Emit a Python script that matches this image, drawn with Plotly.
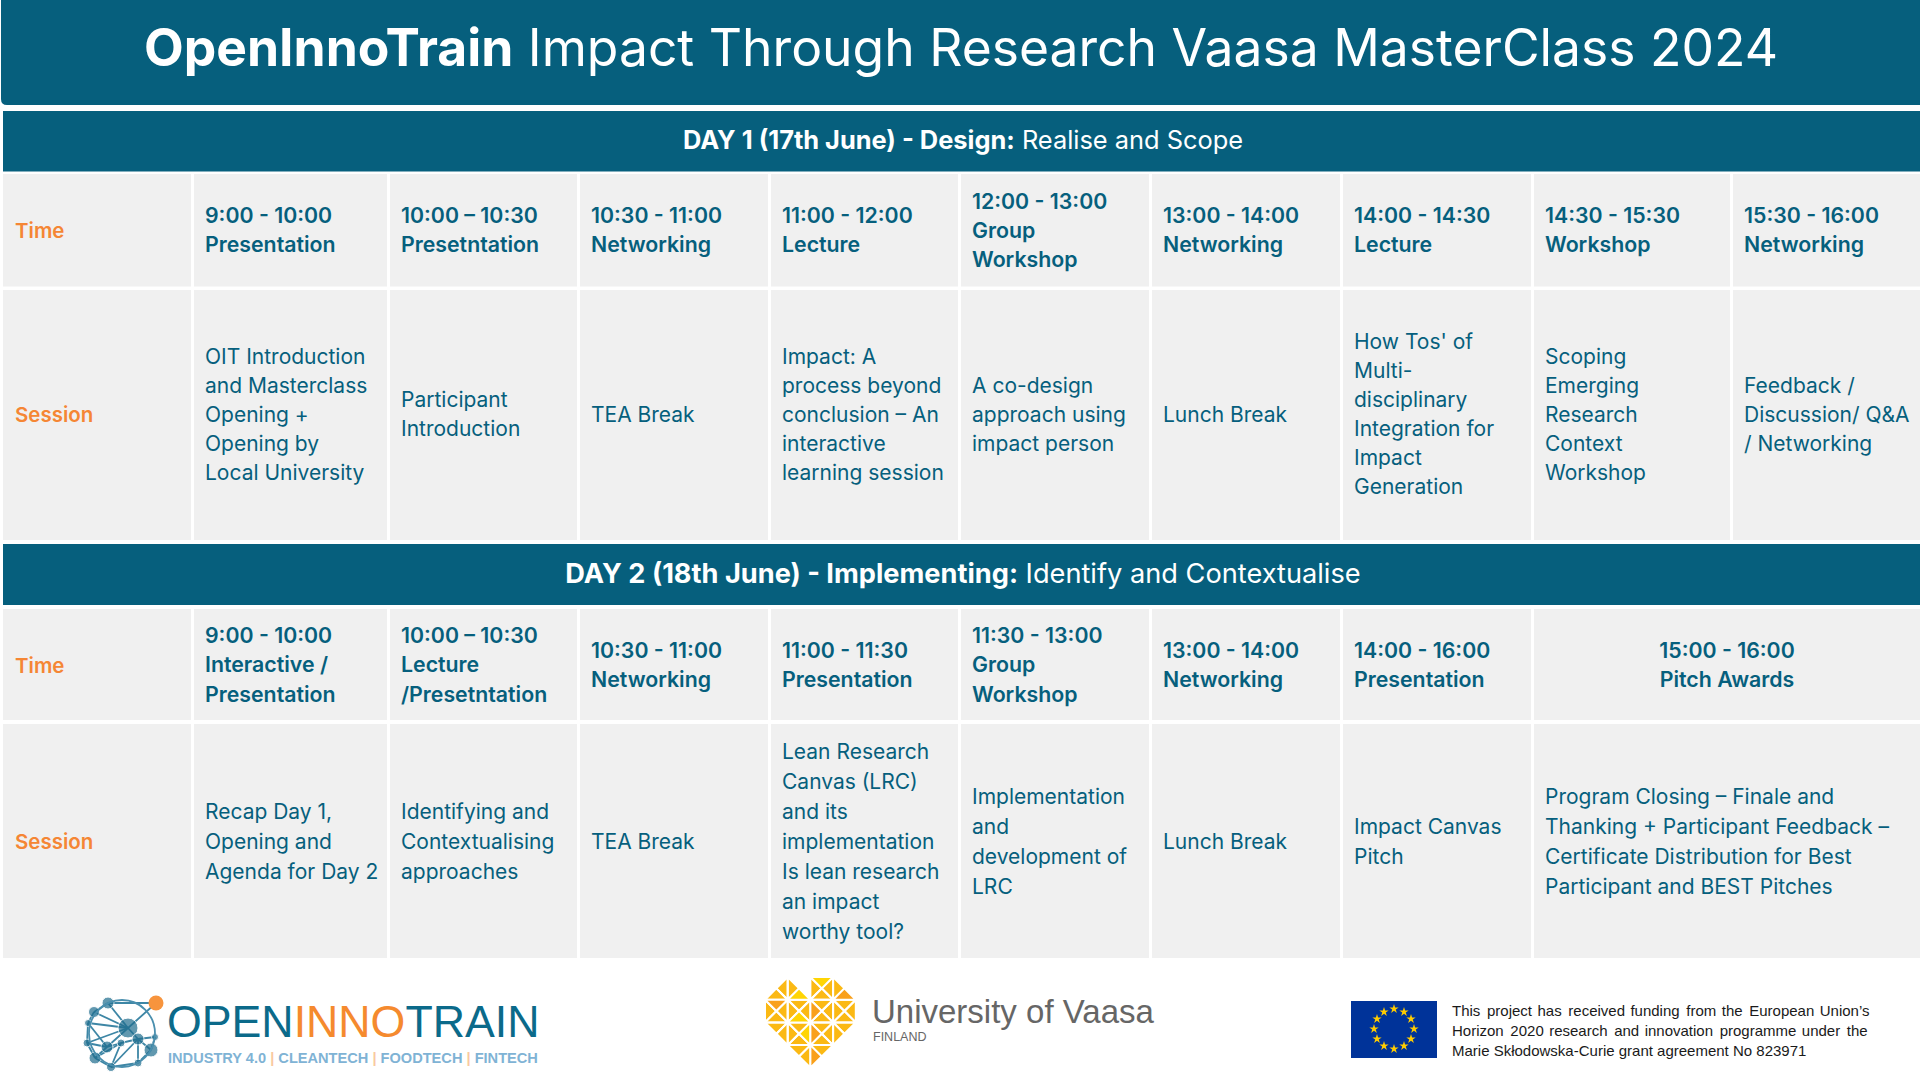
import plotly.graph_objects as go

# ---- chart text ----
title_text = "<b>OpenInnoTrain</b> Impact Through Research Vaasa MasterClass 2024"
day1_title = "<b>DAY 1 (17th June) - Design:</b> Realise and Scope"
day2_title = "<b>DAY 2 (18th June) - Implementing:</b> Identify and Contextualise"
row_labels = ["Time", "Session"]

day1_times = [
    "9:00 - 10:00\nPresentation", "10:00 – 10:30\nPresetntation", "10:30 - 11:00\nNetworking",
    "11:00 - 12:00\nLecture", "12:00 - 13:00\nGroup\nWorkshop", "13:00 - 14:00\nNetworking",
    "14:00 - 14:30\nLecture", "14:30 - 15:30\nWorkshop", "15:30 - 16:00\nNetworking",
]
day1_sessions = [
    "OIT Introduction\nand Masterclass\nOpening +\nOpening by\nLocal University",
    "Participant\nIntroduction",
    "TEA Break",
    "Impact: A\nprocess beyond\nconclusion – An\ninteractive\nlearning session",
    "A co-design\napproach using\nimpact person",
    "Lunch Break",
    "How Tos' of\nMulti-\ndisciplinary\nIntegration for\nImpact\nGeneration",
    "Scoping\nEmerging\nResearch\nContext\nWorkshop",
    "Feedback /\nDiscussion/ Q&A\n/ Networking",
]
day2_times = [
    "9:00 - 10:00\nInteractive /\nPresentation", "10:00 – 10:30\nLecture\n/Presetntation",
    "10:30 - 11:00\nNetworking", "11:00 - 11:30\nPresentation", "11:30 - 13:00\nGroup\nWorkshop",
    "13:00 - 14:00\nNetworking", "14:00 - 16:00\nPresentation", "15:00 - 16:00\nPitch Awards",
]
day2_sessions = [
    "Recap Day 1,\nOpening and\nAgenda for Day 2",
    "Identifying and\nContextualising\napproaches",
    "TEA Break",
    "Lean Research\nCanvas (LRC)\nand its\nimplementation\nIs lean research\nan impact\nworthy tool?",
    "Implementation\nand\ndevelopment of\nLRC",
    "Lunch Break",
    "Impact Canvas\nPitch",
    "Program Closing – Finale and\nThanking + Participant Feedback –\nCertificate Distribution for Best\nParticipant and BEST Pitches",
]
eu_lines = [
    "This\u200a\u200a project\u200a has\u200a\u200a received\u200a funding\u200a\u200a from\u200a the\u200a\u200a European\u200a Union’s",
    "Horizon\u200a\u200a 2020\u200a research\u200a\u200a and\u200a innovation\u200a\u200a programme\u200a under\u200a\u200a the",
    "Marie Skłodowska-Curie grant agreement No 823971",
]

# ---- page geometry (px on a 1920x1080 sheet) ----
TEAL = "#065f7d"
ORANGE = "#f58634"
CELL = "#f0f0f0"
FONT = "Inter"
LOGO_FONT = "Liberation Sans"
TEXT_DY = 2.5

col_left = [3, 194, 390, 580, 771, 961, 1152, 1343, 1534, 1733]
col_right = [191, 387, 577, 768, 958, 1149, 1340, 1531, 1730, 1920]
d2_left = col_left[:8] + [1534]
d2_right = col_right[:7] + [1531, 1920]

bar_y, bar_h, bar_x, bar_base, bar_col = [], [], [], [], []


def add_cell(x0, x1, y0, y1, color=CELL):
    bar_base.append(x0)
    bar_x.append(x1 - x0)
    bar_y.append((y0 + y1) / 2)
    bar_h.append(y1 - y0)
    bar_col.append(color)


text_groups = {}


def add_text(style, x, yc, text, step):
    lines = text.split("\n")
    g = text_groups.setdefault(style, ([], [], []))
    for i, line in enumerate(lines):
        g[0].append(x)
        g[1].append(yc + TEXT_DY + (i - (len(lines) - 1) / 2) * step)
        g[2].append(line)


# day 1 rows
add_cell(3, 1920, 111, 171.5, TEAL)
for l, r in zip(col_left, col_right):
    add_cell(l, r, 174, 286.5)
    add_cell(l, r, 290, 540)
add_text("band1", 963, 140, day1_title, 29)
add_text("label", 15, 230, row_labels[0], 29)
add_text("label", 15, 414, row_labels[1], 29)
for l, t, s in zip(col_left[1:], day1_times, day1_sessions):
    add_text("head", l + 11, 230, t, 29)
    add_text("body", l + 11, 414, s, 29)

# day 2 rows
add_cell(3, 1920, 544, 605, TEAL)
for l, r in zip(d2_left, d2_right):
    add_cell(l, r, 609, 720)
    add_cell(l, r, 724, 958)
add_text("band2", 963, 574, day2_title, 29)
add_text("label", 15, 665, row_labels[0], 29)
add_text("label", 15, 841, row_labels[1], 29)
for i, (l, t, s) in enumerate(zip(d2_left[1:], day2_times, day2_sessions)):
    if i == 7:
        add_text("head_center", 1727, 664.5, t, 29.4)
    else:
        add_text("head", l + 11, 664.5, t, 29.4)
    add_text("body", l + 11, 841, s, 30)

fig = go.Figure()
fig.add_trace(go.Bar(
    orientation="h", y=bar_y, x=bar_x, base=bar_base, width=bar_h,
    marker=dict(color=bar_col, line=dict(width=0)), hoverinfo="skip",
))

styles = {
    "band1": dict(size=25.4, color="white", position="middle center"),
    "band2": dict(size=27.2, color="white", position="middle center"),
    "head": dict(size=21.3, color=TEAL, position="middle right", weight=600),
    "head_center": dict(size=21.3, color=TEAL, position="middle center", weight=600),
    "body": dict(size=21, color=TEAL, position="middle right", weight=400),
    "label": dict(size=20.5, color=ORANGE, position="middle right", weight=600),
}
for name, st in styles.items():
    xs, ys, txt = text_groups[name]
    fig.add_trace(go.Scatter(
        x=xs, y=ys, text=txt, mode="text", textposition=st["position"],
        textfont=dict(family=FONT, size=st["size"], color=st["color"], weight=st.get("weight", 400)),
        hoverinfo="skip",
    ))

# title
fig.add_trace(go.Scatter(
    x=[961], y=[53.5], text=[title_text], mode="text", textposition="middle center",
    textfont=dict(family=FONT, size=51.6, color="white"), hoverinfo="skip",
))

# ---- network logo ----
net_nodes = {
    "hub": (128, 1028), "a": (108, 1003), "b": (94, 1012), "c": (88, 1023), "d": (87, 1043),
    "e": (107, 1047), "f": (121, 1043), "g": (138, 1039), "h": (155, 1037), "i": (151, 1050),
    "j": (138, 1063), "k": (111, 1067), "l": (95, 1058), "o": (156, 1003),
}
net_edges = [
    "o-hub", "o-a", "a-b", "b-c", "c-d", "d-l", "l-k", "k-j", "j-i", "i-h", "c-hub", "b-hub", "a-hub",
    "hub-g", "g-h", "hub-d", "hub-e", "c-e", "d-e", "e-f", "f-g", "e-l", "f-k", "g-k", "g-j", "g-i", "f-l",
]
net_sizes = {"hub": 20, "a": 12, "b": 11, "c": 7, "d": 8, "e": 12, "f": 8, "g": 12, "h": 7, "i": 14,
             "j": 8, "k": 9, "l": 12}
ex, ey = [], []
for e in net_edges:
    p, q = e.split("-")
    ex += [net_nodes[p][0], net_nodes[q][0], None]
    ey += [net_nodes[p][1], net_nodes[q][1], None]
fig.add_trace(go.Scatter(x=ex, y=ey, mode="lines", line=dict(color="#3d86a5", width=1.8), hoverinfo="skip"))
fig.add_shape(type="circle", x0=89, x1=155, y0=1000, y1=1067, line=dict(color="#4a8fae", width=1.8), layer="above")
names = list(net_sizes)
fig.add_trace(go.Scatter(
    x=[net_nodes[n][0] for n in names], y=[net_nodes[n][1] for n in names], mode="markers",
    marker=dict(size=[net_sizes[n] for n in names], color="#1f6d8e"), hoverinfo="skip",
))
fig.add_trace(go.Scatter(
    x=[net_nodes["o"][0]], y=[net_nodes["o"][1]], mode="markers",
    marker=dict(size=15, color="#f7943d"), hoverinfo="skip",
))
fig.add_trace(go.Scatter(
    x=[167], y=[1026], mode="text", textposition="middle right",
    text=["<span style='color:#0b6a8a'>OPEN</span><span style='color:#f58a2e'>INNO</span>"
          "<span style='color:#0b6a8a'>TRAIN</span>"],
    textfont=dict(family=LOGO_FONT, size=44.7), hoverinfo="skip",
))
fig.add_trace(go.Scatter(
    x=[168], y=[1059], mode="text", textposition="middle right",
    text=["<b>INDUSTRY 4.0 <span style='color:#f9c9a0'>|</span> CLEANTECH "
          "<span style='color:#f9c9a0'>|</span> FOODTECH <span style='color:#f9c9a0'>|</span> FINTECH</b>"],
    textfont=dict(family=LOGO_FONT, size=14.6, color="#7fb3d5"), hoverinfo="skip",
))

# ---- heart logo: (row, col, triangle side) ----
heart_plain = [
    (0, 0, "r"), (0, 0, "b"), (0, 1, "l"), (0, 2, "l"), (0, 2, "r"), (0, 2, "b"), (0, 3, "l"),
    (1, 0, "l"), (1, 0, "r"), (1, 0, "b"), (1, 1, "t"), (1, 1, "l"), (1, 1, "r"), (1, 2, "t"),
    (1, 2, "r"), (1, 2, "b"), (1, 3, "t"), (1, 3, "l"), (1, 3, "r"), (1, 3, "b"),
    (2, 0, "t"), (2, 0, "r"), (2, 1, "t"), (2, 1, "l"), (2, 1, "b"), (2, 2, "t"), (2, 2, "r"),
    (2, 2, "b"), (2, 3, "t"), (2, 3, "l"), (3, 1, "t"), (3, 1, "r"), (3, 2, "t"),
]
heart_yellow = [(0, 1, "b"), (0, 2, "t"), (1, 1, "b"), (2, 1, "r")]
heart_orange = [(0, 3, "b"), (1, 0, "t"), (1, 2, "l"), (2, 2, "l"), (3, 2, "l")]
HX, HY, HS = 765, 977, 22.7


def tri_path(cells):
    xs, ys = [], []
    for r, c, side in cells:
        x0, y0 = HX + c * HS, HY + r * HS
        x1, y1 = x0 + HS, y0 + HS
        mid = (x0 + HS / 2, y0 + HS / 2)
        pts = {"t": [(x0, y0), (x1, y0)], "b": [(x0, y1), (x1, y1)],
               "l": [(x0, y0), (x0, y1)], "r": [(x1, y0), (x1, y1)]}[side]
        for p in pts + [mid, pts[0]]:
            xs.append(p[0])
            ys.append(p[1])
        xs.append(None)
        ys.append(None)
    return xs, ys


for cells, color in [(heart_plain, "#fbb914"), (heart_yellow, "#ffd504"), (heart_orange, "#f9a01b")]:
    hx, hy = tri_path(cells)
    fig.add_trace(go.Scatter(x=hx, y=hy, mode="lines", fill="toself", fillcolor=color,
                             line=dict(color="white", width=2), hoverinfo="skip"))
fig.add_trace(go.Scatter(
    x=[872, 873], y=[1014.5, 1037.5], mode="text", textposition="middle right",
    text=["University of Vaasa", "FINLAND"],
    textfont=dict(family=LOGO_FONT, size=[33, 12.5], color="#666666"), hoverinfo="skip",
))

# ---- EU flag and funding note ----
star_x = [1394, 1404, 1411, 1414, 1411, 1404, 1394, 1384, 1377, 1374, 1377, 1384]
star_y = [1009, 1012, 1019, 1029, 1039, 1046, 1049, 1046, 1039, 1029, 1019, 1012]
fig.add_shape(type="rect", x0=1351, x1=1437, y0=1001, y1=1058, fillcolor="#003399", line_width=0, layer="below")
fig.add_trace(go.Scatter(x=star_x, y=star_y, mode="markers", marker=dict(symbol="star", size=7, color="#ffcc00"),
                         hoverinfo="skip"))
fig.add_trace(go.Scatter(
    x=[1452, 1452, 1452], y=[1012, 1032, 1052], text=eu_lines, mode="text", textposition="middle right",
    textfont=dict(family="Liberation Sans", size=15, color="#1a1a1a"), hoverinfo="skip",
))

# title block with the small rounded corner at lower left
fig.add_shape(type="path", path="M 1 0 H 1920 V 105 H 7 Q 1 105 1 99 Z", fillcolor=TEAL, line_width=0, layer="below")

fig.update_layout(
    width=1920, height=1080, margin=dict(l=0, r=0, t=0, b=0), showlegend=False,
    paper_bgcolor="white", plot_bgcolor="white", barmode="overlay",
    xaxis=dict(visible=False, range=[0, 1920], fixedrange=True),
    yaxis=dict(visible=False, range=[1080, 0], fixedrange=True),
)
fig.write_html("out.html", config=dict(displayModeBar=False), post_script="document.body.style.margin='0';")
